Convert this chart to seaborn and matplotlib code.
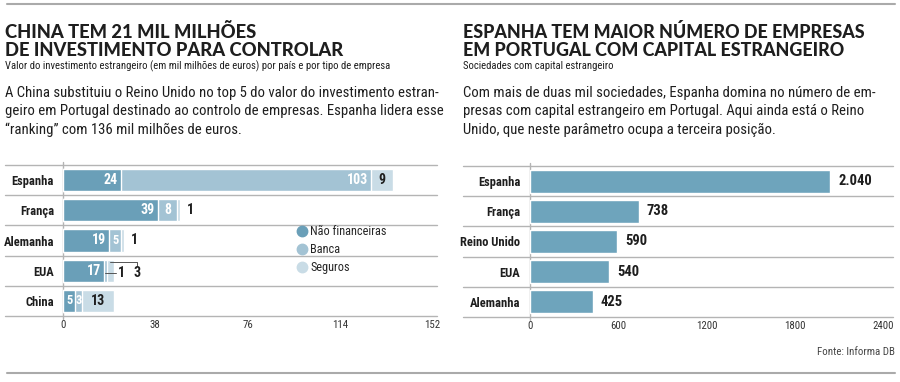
import matplotlib
matplotlib.use("Agg")
import matplotlib.pyplot as plt
from matplotlib import font_manager
from matplotlib.lines import Line2D
import numpy as np
import pandas as pd
import seaborn as sns

# --- data -----------------------------------------------------------------
# left chart: foreign investment (thousand million euros) by country and type
inv_countries = ["Espanha", "França", "Alemanha", "EUA", "China"]
nao_financeiras = [24, 39, 19, 17, 5]
banca = [103, 8, 5, 1, 3]
seguros = [9, 1, 1, 3, 13]
inv_ticks = [0, 38, 76, 114, 152]

# right chart: number of companies with foreign capital
emp_countries = ["Espanha", "França", "Reino Unido", "EUA", "Alemanha"]
n_empresas = [2040, 738, 590, 540, 425]
emp_ticks = [0, 600, 1200, 1800, 2400]

# --- style ----------------------------------------------------------------
sns.set_theme(style="white")
installed = {f.name for f in font_manager.fontManager.ttflist}
narrow = next((f for f in ["Roboto Condensed", "Liberation Sans Narrow",
                           "Open Sans Condensed", "Liberation Sans"] if f in installed),
              "DejaVu Sans")
plt.rcParams["font.family"] = [narrow, "DejaVu Sans"]
title_font = ["Lato", "DejaVu Sans"]

DARK = "#6a9fb8"
MID = "#a3c3d4"
LIGHT = "#c9dce6"
GRID = "#b4b4b4"
INK = "#1e1e1e"

W, H = 900, 382
fig = plt.figure(figsize=(9, 3.82), dpi=100)


def fx(x):
    return x / W


def fy(y):
    return 1 - y / H


# --- header texts ---------------------------------------------------------
fig.add_artist(Line2D([fx(7), fx(895)], [fy(4), fy(4)], color="#aaaaaa", lw=1.5))
fig.add_artist(Line2D([fx(7), fx(895)], [fy(373), fy(373)], color="#aaaaaa", lw=1.5))

fig.text(fx(5), fy(38), "CHINA TEM 21 MIL MILHÕES", family=title_font,
         weight="black", fontsize=13.2, color=INK, va="baseline")
fig.text(fx(5), fy(55.5), "DE INVESTIMENTO PARA CONTROLAR", family=title_font,
         weight="black", fontsize=13.2, color=INK, va="baseline")
fig.text(fx(5), fy(69), "Valor do investimento estrangeiro (em mil milhões de euros) "
         "por país e por tipo de empresa", fontsize=7.7, color=INK, va="baseline")
body_left = ["A China substituiu o Reino Unido no top 5 do valor do investimento estran-",
             "geiro em Portugal destinado ao controlo de empresas. Espanha lidera esse",
             "“ranking” com 136 mil milhões de euros."]
for i, line in enumerate(body_left):
    fig.text(fx(5), fy(97 + 18.5 * i), line, fontsize=10.6, color=INK, va="baseline")

fig.text(fx(463), fy(38), "ESPANHA TEM MAIOR NÚMERO DE EMPRESAS", family=title_font,
         weight="black", fontsize=12.9, color=INK, va="baseline")
fig.text(fx(463), fy(55.5), "EM PORTUGAL COM CAPITAL ESTRANGEIRO", family=title_font,
         weight="black", fontsize=12.9, color=INK, va="baseline")
fig.text(fx(463), fy(69), "Sociedades com capital estrangeiro", fontsize=7.7,
         color=INK, va="baseline")
body_right = ["Com mais de duas mil sociedades, Espanha domina no número de em-",
              "presas com capital estrangeiro em Portugal. Aqui ainda está o Reino",
              "Unido, que neste parâmetro ocupa a terceira posição."]
for i, line in enumerate(body_right):
    fig.text(fx(463), fy(97 + 18.5 * i), line, fontsize=10.6, color=INK, va="baseline")

fig.text(fx(895), fy(355), "Fonte: Informa DB", fontsize=7.8, color="#444444",
         ha="right", va="baseline")

# --- left chart: stacked bars ---------------------------------------------
inv = pd.DataFrame({"pais": inv_countries, "nf": nao_financeiras,
                    "banca": banca, "seguros": seguros})
inv["c1"] = inv["nf"]
inv["c2"] = inv["nf"] + inv["banca"]
inv["c3"] = inv["c2"] + inv["seguros"]

ax1 = fig.add_axes([fx(63), fy(316), fx(432 - 63), (316 - 165) / H])
for col, colr in [("c3", LIGHT), ("c2", MID), ("c1", DARK)]:
    sns.barplot(data=inv, x=col, y="pais", orient="h", color=colr,
                saturation=1, width=0.74, ax=ax1)

ax1.set_xlim(0, 152)
ax1.set_ylim(4.5, -0.5)
ax1.set_xticks(inv_ticks)
ax1.set_xlabel("")
ax1.set_ylabel("")
for y in np.arange(-0.5, 5, 1):
    ax1.plot([-0.157, 1.0136], [y, y], transform=ax1.get_yaxis_transform(),
             color=GRID, lw=1, clip_on=False, zorder=0)
ax1.plot([0, 0], [-0.6, 4.6], color=GRID, lw=1, clip_on=False, zorder=0)
sns.despine(ax=ax1, left=True, bottom=True)
ax1.tick_params(axis="x", length=0, pad=3, labelsize=7.8, labelcolor="#333333")
ax1.tick_params(axis="y", length=0, pad=6.5, labelsize=9, labelcolor=INK)
for lab in ax1.get_yticklabels():
    lab.set_fontweight("bold")

lab_kw = dict(textcoords="offset points", weight="bold", va="center")


def seg_label(ax, value, start, end, y, color):
    # small segments get the value centred, wide ones right-aligned at the end
    if value <= 8:
        ax.annotate(str(value), ((start + end) / 2, y), xytext=(0, 0), ha="center",
                    color=color, fontsize=9 if value < 8 else 10, **lab_kw)
    else:
        ax.annotate(str(value), (end, y), xytext=(-2.5, 0), ha="right",
                    color=color, fontsize=10, **lab_kw)


for i, r in inv.iterrows():
    seg_label(ax1, r.nf, 0, r.c1, i, "white")
    if r.pais == "EUA":
        # small banca value and seguros value with leader lines
        ax1.plot([r.c1 + 0.5, r.c3 + 1.0], [i + 0.06, i + 0.06], color="#555555", lw=0.7)
        ax1.annotate(str(r.banca), (r.c3 + 1.0, i + 0.06), xytext=(1, 0), ha="left",
                     color=INK, fontsize=10, **lab_kw)
        ax1.plot([r.c2 + 1.5, 30.6, 30.6], [i - 0.3, i - 0.3, i - 0.15],
                 color="#555555", lw=0.7)
        ax1.annotate(str(r.seguros), (30.6, i + 0.06), xytext=(0, 0), ha="center",
                     color=INK, fontsize=10, **lab_kw)
        continue
    seg_label(ax1, r.banca, r.c1, r.c2, i, "white")
    if r.seguros >= 8:
        ax1.annotate(str(r.seguros), ((r.c2 + r.c3) / 2, i), xytext=(0, 0), ha="center",
                     color=INK, fontsize=10, **lab_kw)
    else:
        ax1.annotate(str(r.seguros), (r.c3, i), xytext=(5, 0), ha="left", color=INK,
                     fontsize=10, **lab_kw)

handles = [Line2D([], [], marker="o", ls="", ms=7.5, color=c) for c in (DARK, MID, LIGHT)]
ax1.legend(handles, ["Não financeiras", "Banca", "Seguros"], loc="upper left",
           bbox_to_anchor=(fx(297), fy(225)), bbox_transform=fig.transFigure,
           frameon=False, fontsize=8.8, handlelength=0.8, handletextpad=0.3,
           labelspacing=0.42, borderpad=0, borderaxespad=0)

# --- right chart ----------------------------------------------------------
emp = pd.DataFrame({"pais": emp_countries, "n": n_empresas})
ax2 = fig.add_axes([fx(530), fy(317), fx(883 - 530), (317 - 166) / H])
sns.barplot(data=emp, x="n", y="pais", orient="h", color="#6ea4bc",
            saturation=1, width=0.76, ax=ax2)
ax2.set_xlim(0, 2400)
ax2.set_ylim(4.5, -0.5)
ax2.set_xticks(emp_ticks)
ax2.set_xlabel("")
ax2.set_ylabel("")
for y in np.arange(-0.5, 5, 1):
    ax2.plot([-0.19, 1.028], [y, y], transform=ax2.get_yaxis_transform(),
             color=GRID, lw=1, clip_on=False, zorder=0)
ax2.plot([0, 0], [-0.6, 4.6], color=GRID, lw=1, clip_on=False, zorder=0)
sns.despine(ax=ax2, left=True, bottom=True)
ax2.tick_params(axis="x", length=0, pad=3, labelsize=7.8, labelcolor="#333333")
ax2.tick_params(axis="y", length=0, pad=7, labelsize=9, labelcolor=INK)
for lab in ax2.get_yticklabels():
    lab.set_fontweight("bold")
for i, v in enumerate(n_empresas):
    txt = f"{v:,}".replace(",", ".")
    ax2.annotate(txt, (v, i), xytext=(6, 0), textcoords="offset points",
                 ha="left", va="center", fontsize=10.5, weight="bold", color=INK)

fig.savefig("out.png", dpi=100)
